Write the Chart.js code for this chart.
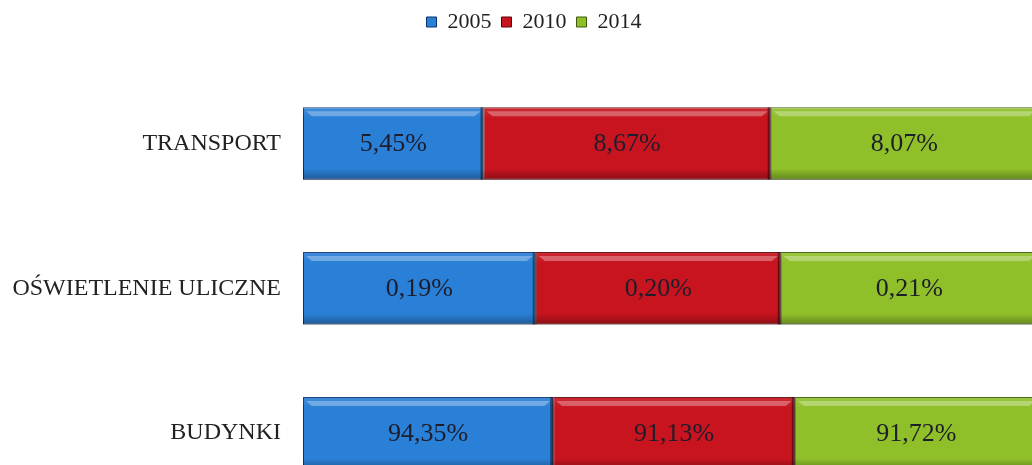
<!DOCTYPE html>
<html>
<head>
<meta charset="utf-8">
<script src="https://cdn.jsdelivr.net/npm/chart.js@4.4.1/dist/chart.umd.min.js"></script>
<style>
  html, body { margin: 0; padding: 0; background: #fff; overflow: hidden; }
  #wrap { position: absolute; left: 0; top: 0; width: 1040px; height: 520px; }
</style>
</head>
<body>
<div id="wrap"><canvas id="myChart"></canvas></div>
<script>
// udzialy sektorow w latach
var kategorie = ['TRANSPORT', 'OŚWIETLENIE ULICZNE', 'BUDYNKI'];
var lata = ['2005', '2010', '2014'];
var wartosci2005 = [5.45, 0.19, 94.35];
var wartosci2010 = [8.67, 0.20, 91.13];
var wartosci2014 = [8.07, 0.21, 91.72];

var kolory = ['#2a80d6', '#c8141f', '#8fc02a'];
var koloryKrawedzi = ['#0d2f6e', '#5a0609', '#3f5a0c'];

var serie = [wartosci2005, wartosci2010, wartosci2014];

// kazdy pasek to 100% sumy trzech lat
function naProcent(seria) {
    return seria.map(function (v, i) {
        var suma = wartosci2005[i] + wartosci2010[i] + wartosci2014[i];
        return v / suma * 100;
    });
}

function formatuj(v) {
    return v.toFixed(2).replace('.', ',') + '%';
}

// efekt wypuklego paska
var bevel = {
    id: 'bevel',
    afterDatasetDraw: function (chart, args) {
        var ctx = chart.ctx;
        var meta = args.meta;
        ctx.save();
        meta.data.forEach(function (bar) {
            var x0 = Math.min(bar.base, bar.x), x1 = Math.max(bar.base, bar.x);
            var top = bar.y - bar.height / 2, bot = bar.y + bar.height / 2;
            var w = x1 - x0;
            // cien na dole
            var g = ctx.createLinearGradient(0, top, 0, bot);
            g.addColorStop(0, 'rgba(255,255,255,0.10)');
            g.addColorStop(0.15, 'rgba(255,255,255,0.0)');
            g.addColorStop(0.85, 'rgba(0,0,0,0.0)');
            g.addColorStop(1, 'rgba(0,0,0,0.30)');
            ctx.fillStyle = g;
            ctx.fillRect(x0, top, w, bot - top);
            // jasna krawedz u gory
            ctx.fillStyle = 'rgba(255,255,255,0.30)';
            ctx.beginPath();
            ctx.moveTo(x0 + 3, top + 4);
            ctx.lineTo(x1 - 3, top + 4);
            ctx.lineTo(x1 - 9, top + 9);
            ctx.lineTo(x0 + 9, top + 9);
            ctx.closePath();
            ctx.fill();
            // ciemna krawedz z prawej
            ctx.fillStyle = 'rgba(0,0,0,0.45)';
            ctx.fillRect(x1 - 3, top, 3, bot - top);
        });
        ctx.restore();
    }
};

// podpisy z wartosciami w srodku paskow
var podpisy = {
    id: 'podpisy',
    afterDatasetsDraw: function (chart) {
        var ctx = chart.ctx;
        ctx.save();
        ctx.font = '26px "Liberation Serif", "Times New Roman", serif';
        ctx.fillStyle = '#1d1d2c';
        ctx.textAlign = 'center';
        ctx.textBaseline = 'middle';
        chart.data.datasets.forEach(function (ds, di) {
            chart.getDatasetMeta(di).data.forEach(function (bar, i) {
                var cx = (bar.base + bar.x) / 2;
                ctx.fillText(formatuj(serie[di][i]), cx, bar.y + 1);
            });
        });
        ctx.restore();
    }
};

// legenda troche w prawo od srodka
var przesunLegende = {
    id: 'przesunLegende',
    afterLayout: function (chart) {
        chart.legend.left += 15;
        chart.legend.right += 15;
    }
};

var ctx = document.getElementById('myChart');
var myChart = new Chart(ctx, {
    type: 'bar',
    data: {
        labels: kategorie,
        datasets: lata.map(function (rok, k) {
            return {
                label: rok,
                data: naProcent(serie[k]),
                backgroundColor: kolory[k],
                borderColor: koloryKrawedzi[k],
                borderWidth: 1,
                borderSkipped: false,
                categoryPercentage: 0.5,
                barPercentage: 1
            };
        })
    },
    options: {
        indexAxis: 'y',
        responsive: true,
        maintainAspectRatio: false,
        animation: false,
        layout: { padding: { left: 0, right: 2, top: 1, bottom: 0 } },
        scales: {
            x: {
                stacked: true,
                min: 0,
                max: 100,
                position: 'top',
                grid: { display: false, drawTicks: false },
                border: { display: false },
                ticks: { display: false },
                afterFit: function (s) { s.height = 28; }
            },
            y: {
                stacked: true,
                grid: { display: false, drawTicks: true, tickLength: 22 },
                border: { display: false },
                ticks: {
                    color: '#222',
                    padding: 0,
                    font: { family: '"Liberation Serif", "Times New Roman", serif', size: 24 }
                },
                afterFit: function (s) { s.width = 303; }
            }
        },
        plugins: {
            legend: {
                position: 'top',
                labels: {
                    boxWidth: 10,
                    boxHeight: 10,
                    padding: 10,
                    color: '#222',
                    font: { family: '"Liberation Serif", "Times New Roman", serif', size: 22 }
                }
            },
            tooltip: { enabled: false }
        }
    },
    plugins: [bevel, podpisy, przesunLegende]
});
</script>
</body>
</html>
